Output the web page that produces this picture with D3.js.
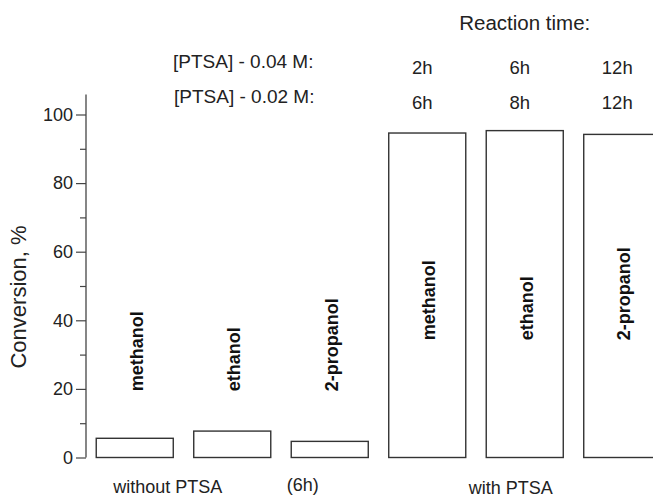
<!DOCTYPE html>
<html>
<head>
<meta charset="utf-8">
<script src="https://cdn.jsdelivr.net/npm/d3@7"></script>
<style>
  body { margin: 0; background: #fff; }
  svg { font-family: "Liberation Sans", Arial, Helvetica, sans-serif; }
</style>
</head>
<body>
<svg id="chart" width="653" height="497"></svg>
<script>
const width = 653;
const height = 497;

// dados
const alcohols = ["methanol", "ethanol", "2-propanol"];
const withoutPtsa = [5.6, 7.7, 4.7];
const withPtsa = [94.6, 95.3, 94.2];
const timesHigh = ["2h", "6h", "12h"];   // [PTSA] - 0.04 M
const timesLow = ["6h", "8h", "12h"];    // [PTSA] - 0.02 M
const majorTicks = [0, 20, 40, 60, 80, 100];
const minorTicks = [10, 30, 50, 70, 90];

const bars = [];
alcohols.forEach((a, i) => bars.push({id: "w" + i, group: "without", name: a, value: withoutPtsa[i]}));
alcohols.forEach((a, i) => bars.push({id: "p" + i, group: "with", name: a, value: withPtsa[i]}));

const x = d3.scaleBand()
  .domain(bars.map(d => d.id))
  .range([86, 671])
  .paddingInner(0.21)
  .paddingOuter(0.105);

const y = d3.scaleLinear().domain([0, 100]).range([457.5, 114.5]);

const svg = d3.select("#chart");
const ink = "#222";

// eixo Y
const axis = svg.append("g").attr("transform", "translate(86,0)");
axis.append("line")
  .attr("y1", y(0)).attr("y2", y(105.8))
  .attr("stroke", "#444").attr("stroke-width", 1.3);

const major = axis.append("g")
  .call(d3.axisLeft(y).tickValues(majorTicks).tickSize(10).tickPadding(3));
major.select(".domain").remove();
major.selectAll("line").attr("stroke", "#444").attr("stroke-width", 1.2);
major.selectAll("text")
  .attr("font-size", 18).attr("fill", ink).attr("font-family", null);

const minor = axis.append("g")
  .call(d3.axisLeft(y).tickValues(minorTicks).tickSize(6).tickFormat(""));
minor.select(".domain").remove();
minor.selectAll("line").attr("stroke", "#444").attr("stroke-width", 1.2);

svg.append("text")
  .attr("transform", `translate(26,297) rotate(-90)`)
  .attr("text-anchor", "middle")
  .attr("font-size", 22)
  .attr("fill", ink)
  .text("Conversion, %");

// barras
svg.append("g")
  .selectAll("rect")
  .data(bars)
  .enter()
  .append("rect")
  .attr("x", d => x(d.id))
  .attr("y", d => y(d.value))
  .attr("width", x.bandwidth())
  .attr("height", d => y(0) - y(d.value))
  .attr("fill", "#fff")
  .attr("stroke", "#333")
  .attr("stroke-width", 1.4);

// nomes dos álcoois, na vertical
const labelBase = d => d.group === "without" ? 19.3 : 34.2;
svg.append("g")
  .selectAll("text")
  .data(bars)
  .enter()
  .append("text")
  .attr("transform", d => `translate(${x(d.id) + x.bandwidth() / 2 + 8},${y(labelBase(d))}) rotate(-90)`)
  .attr("font-size", 18)
  .attr("font-weight", "bold")
  .attr("fill", "#111")
  .text(d => d.name);

// cabeçalho com tempos de reação
const withBars = bars.filter(d => d.group === "with");
const cx = d => x(d.id) + x.bandwidth() / 2 - 5;

svg.append("text")
  .attr("x", cx(withBars[1]) + 5).attr("y", 30)
  .attr("text-anchor", "middle")
  .attr("font-size", 20.5).attr("fill", ink)
  .text("Reaction time:");

svg.append("text")
  .attr("x", 173).attr("y", 68)
  .attr("font-size", 19).attr("fill", ink)
  .text("[PTSA] - 0.04 M:");

svg.append("text")
  .attr("x", 174).attr("y", 103)
  .attr("font-size", 19).attr("fill", ink)
  .text("[PTSA] - 0.02 M:");

svg.append("g")
  .selectAll("text")
  .data(withBars)
  .enter()
  .append("text")
  .attr("x", cx).attr("y", 74)
  .attr("text-anchor", "middle")
  .attr("font-size", 18.5).attr("fill", ink)
  .text((d, i) => timesHigh[i]);

svg.append("g")
  .selectAll("text")
  .data(withBars)
  .enter()
  .append("text")
  .attr("x", cx).attr("y", 109)
  .attr("text-anchor", "middle")
  .attr("font-size", 18.5).attr("fill", ink)
  .text((d, i) => timesLow[i]);

// legendas dos grupos
svg.append("text")
  .attr("x", x("w0") + x.bandwidth() / 2 + 33).attr("y", 493)
  .attr("text-anchor", "middle")
  .attr("font-size", 18).attr("fill", ink)
  .text("without PTSA");

svg.append("text")
  .attr("x", x("w2") + x.bandwidth() / 2 - 27).attr("y", 491)
  .attr("text-anchor", "middle")
  .attr("font-size", 18).attr("fill", ink)
  .text("(6h)");

svg.append("text")
  .attr("x", x("p1") + x.bandwidth() / 2 - 14).attr("y", 494)
  .attr("text-anchor", "middle")
  .attr("font-size", 18).attr("fill", ink)
  .text("with PTSA");
</script>
</body>
</html>
